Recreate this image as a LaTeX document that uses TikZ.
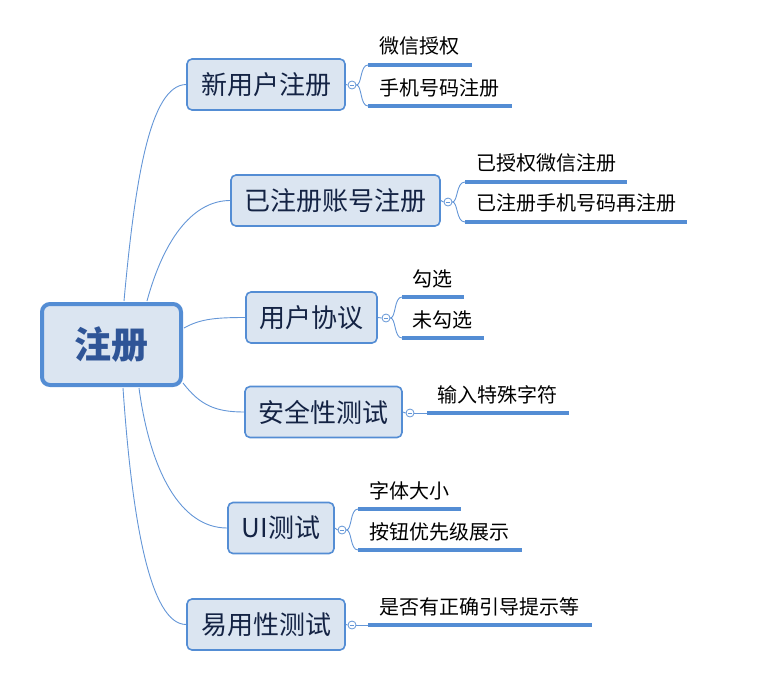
\documentclass[tikz,border=0pt]{standalone}
\usepackage{fontspec}
\setmainfont{Noto Sans CJK SC}
\definecolor{bfill}{RGB}{219,229,241}
\definecolor{bline}{RGB}{84,141,212}
\definecolor{cline}{RGB}{100,150,215}
\definecolor{maintext}{RGB}{20,35,68}
\definecolor{roottext}{RGB}{47,85,151}
\tikzset{
  rootbox/.style={draw=bline, fill=bfill, line width=4pt, rounded corners=8pt,
    minimum width=139pt, minimum height=81pt, inner sep=0pt,
    font=\fontsize{37}{40}\selectfont\bfseries, text=roottext},
  mainbox/.style={draw=bline, fill=bfill, line width=1.6pt, rounded corners=5pt,
    minimum height=51pt, inner sep=0pt,
    font=\fontsize{26}{30}\selectfont, text=maintext},
  childtext/.style={anchor=west, inner sep=0pt, font=\fontsize{20}{22}\selectfont, text=black},
  conn/.style={draw=cline, line width=0.9pt},
  childline/.style={draw=bline, line width=3.1pt},
  collapse/.style={circle, draw=cline, fill=white, line width=0.8pt, minimum size=8pt, inner sep=0pt,
    path picture={\draw[cline, line width=0.7pt] ([xshift=-2.2pt]path picture bounding box.center) -- ([xshift=2.2pt]path picture bounding box.center);}}
}
\begin{document}
\begin{tikzpicture}[x=1pt,y=-1pt]
\useasboundingbox (0,0) rectangle (784,691);

% root
\node[rootbox] (root) at (111.5,344.5) {注册};

% main branches
\node[mainbox, minimum width=158pt] (b1) at (266,84.5) {新用户注册};
\node[mainbox, minimum width=209pt] (b2) at (335.5,200.5) {已注册账号注册};
\node[mainbox, minimum width=131pt] (b3) at (311.5,317.5) {用户协议};
\node[mainbox, minimum width=157pt] (b4) at (323.5,412) {安全性测试};
\node[mainbox, minimum width=106pt] (b5) at (281,528) {UI测试};
\node[mainbox, minimum width=158pt] (b6) at (266,624.5) {易用性测试};

% root connectors
\coordinate (r1) at (124,301);
\coordinate (r2) at (147,301);
\coordinate (r3) at (184,328);
\coordinate (r4) at (183,383);
\coordinate (r5) at (139,388);
\coordinate (r6) at (123,388);
\draw[conn] (r1) .. controls (135,180) and (150,85) .. (b1.west);
\draw[conn] (r2) .. controls (165,235) and (195,200.5) .. (b2.west);
\draw[conn] (r3) .. controls (200,319) and (215,317.5) .. (b3.west);
\draw[conn] (r4) .. controls (200,405) and (215,412) .. (b4.west);
\draw[conn] (r5) .. controls (150,470) and (180,528) .. (b5.west);
\draw[conn] (r6) .. controls (132,520) and (150,624.5) .. (b6.west);

% collapse circles
\node[collapse] (c1) at (352,85) {};
\node[collapse] (c2) at (448,202) {};
\node[collapse] (c3) at (386,318) {};
\node[collapse] (c4) at (410,413) {};
\node[collapse] (c5) at (342,530) {};
\node[collapse] (c6) at (352,625) {};
\draw[conn] (b1.east) -- (c1.west);
\draw[conn] (b2.east) -- (c2.west);
\draw[conn] (b3.east) -- (c3.west);
\draw[conn] (b4.east) -- (c4.west);
\draw[conn] (b5.east) -- (c5.west);
\draw[conn] (b6.east) -- (c6.west);

% branch 1
\coordinate (s1a) at (368,65); \coordinate (e1a) at (472,65);
\coordinate (s1b) at (368,106); \coordinate (e1b) at (512,106);
\draw[conn] (c1.east) .. controls (362,85) and (360,65) .. (s1a);
\draw[conn] (c1.east) .. controls (362,85) and (360,106) .. (s1b);
\draw[childline] (s1a) -- (e1a);
\draw[childline] (s1b) -- (e1b);
\node[childtext] (t1a) at (379,46) {微信授权};
\node[childtext] (t1b) at (379,88) {手机号码注册};

% branch 2
\coordinate (s2a) at (465,182); \coordinate (e2a) at (627,182);
\coordinate (s2b) at (465,222); \coordinate (e2b) at (687,222);
\draw[conn] (c2.east) .. controls (458,202) and (456,182) .. (s2a);
\draw[conn] (c2.east) .. controls (458,202) and (456,222) .. (s2b);
\draw[childline] (s2a) -- (e2a);
\draw[childline] (s2b) -- (e2b);
\node[childtext] (t2a) at (476,163) {已授权微信注册};
\node[childtext] (t2b) at (476,203) {已注册手机号码再注册};

% branch 3
\coordinate (s3a) at (402,297); \coordinate (e3a) at (464,297);
\coordinate (s3b) at (402,338); \coordinate (e3b) at (484,338);
\draw[conn] (c3.east) .. controls (396,318) and (394,297) .. (s3a);
\draw[conn] (c3.east) .. controls (396,318) and (394,338) .. (s3b);
\draw[childline] (s3a) -- (e3a);
\draw[childline] (s3b) -- (e3b);
\node[childtext] (t3a) at (412,279) {勾选};
\node[childtext] (t3b) at (412,320) {未勾选};

% branch 4
\coordinate (s4) at (427,413); \coordinate (e4) at (569,413);
\draw[conn] (c4.east) -- (s4);
\draw[childline] (s4) -- (e4);
\node[childtext] (t4) at (437,395) {输入特殊字符};

% branch 5
\coordinate (s5a) at (358,509); \coordinate (e5a) at (461,509);
\coordinate (s5b) at (358,550); \coordinate (e5b) at (522,550);
\draw[conn] (c5.east) .. controls (352,530) and (350,509) .. (s5a);
\draw[conn] (c5.east) .. controls (352,530) and (350,550) .. (s5b);
\draw[childline] (s5a) -- (e5a);
\draw[childline] (s5b) -- (e5b);
\node[childtext] (t5a) at (369,491) {字体大小};
\node[childtext] (t5b) at (369,532) {按钮优先级展示};

% branch 6
\coordinate (s6) at (368,625); \coordinate (e6) at (592,625);
\draw[conn] (c6.east) -- (s6);
\draw[childline] (s6) -- (e6);
\node[childtext] (t6) at (379,607) {是否有正确引导提示等};
\end{tikzpicture}
\end{document}
